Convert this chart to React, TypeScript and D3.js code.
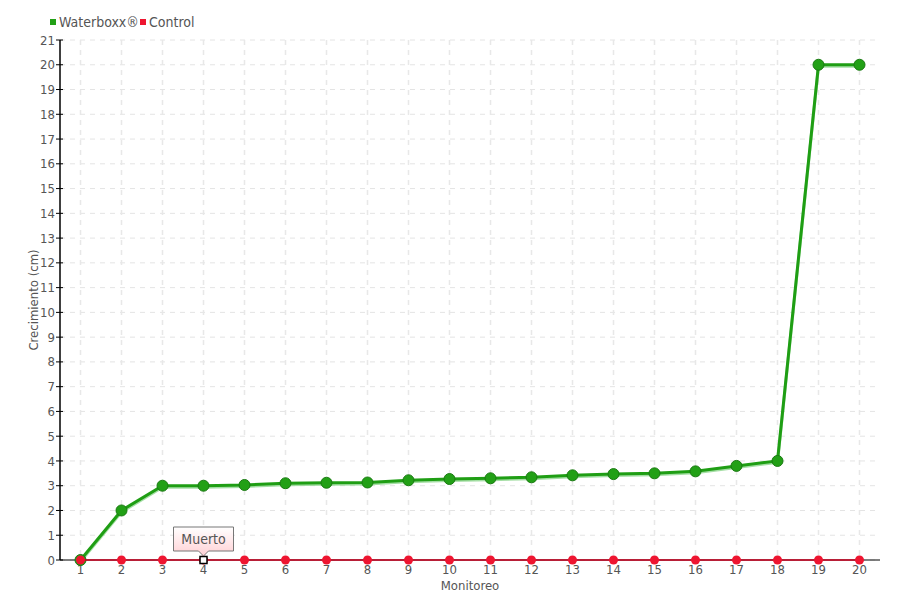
import React from "react";
import * as d3 from "d3";

const categories = ["1","2","3","4","5","6","7","8","9","10","11","12","13","14","15","16","17","18","19","20"];
const waterboxx = [0, 2, 3, 3, 3.03, 3.1, 3.12, 3.13, 3.22, 3.27, 3.3, 3.34, 3.42, 3.47, 3.5, 3.58, 3.8, 4, 20, 20];
const control = [0,0,0,0,0,0,0,0,0,0,0,0,0,0,0,0,0,0,0,0];
const yTicks = d3.range(0, 22);
const seriesNames = ["Waterboxx®", "Control"];
const tooltipIndex = 3;
const tooltipText = "Muerto";

const W = 900, H = 600;
const M = { left: 60, right: 20, top: 40, bottom: 40 };
const FONT = "'DejaVu Sans Condensed', 'DejaVu Sans', sans-serif";

export default function App() {
  const x = d3.scaleBand<string>().domain(categories).range([M.left, W - M.right]);
  const cx = (c: string) => (x(c) as number) + x.bandwidth() / 2;
  const y = d3.scaleLinear().domain([0, 21]).range([H - M.bottom, M.top]);
  const line = d3.line<number>().x((_, i) => cx(categories[i])).y((d) => y(d));
  const tx = cx(categories[tooltipIndex]);
  const ty = y(control[tooltipIndex]);
  return (
    <svg width={W} height={H} style={{ position: "absolute", left: 0, top: 0, fontFamily: FONT }}>
      <defs>
        <linearGradient id="tipg" x1="0" y1="0" x2="0" y2="1">
          <stop offset="0" stopColor="#ffffff" />
          <stop offset="1" stopColor="#ffd0d4" />
        </linearGradient>
      </defs>
      <rect width={W} height={H} fill="#fff" />
      {yTicks.map((t) => (
        <line key={"gy" + t} x1={M.left} x2={W - M.right} y1={y(t)} y2={y(t)} stroke="#e4e4e4" strokeDasharray="5,5" strokeWidth={1} />
      ))}
      {categories.map((c) => (
        <line key={"gx" + c} x1={cx(c)} x2={cx(c)} y1={M.top} y2={H - M.bottom} stroke="#e8e8e8" strokeDasharray="5,5" strokeWidth={1.5} />
      ))}
      <line x1={M.left} x2={M.left} y1={M.top} y2={H - M.bottom} stroke="#000" strokeWidth={1.5} />
      <line x1={M.left} x2={W - M.right} y1={H - M.bottom} y2={H - M.bottom} stroke="#000" strokeWidth={1} />
      {yTicks.map((t) => (
        <g key={"ty" + t}>
          <line x1={M.left - 4} x2={M.left + 3} y1={y(t)} y2={y(t)} stroke="#000" strokeWidth={1} />
          <text x={M.left - 5} y={y(t)} dy="0.35em" textAnchor="end" fontSize={13} fill="#555">{t}</text>
        </g>
      ))}
      {categories.map((c) => (
        <text key={"tx" + c} x={cx(c)} y={H - M.bottom + 14} textAnchor="middle" fontSize={13} fill="#555">{c}</text>
      ))}
      <text x={(M.left + W - M.right) / 2} y={H - M.bottom + 30} textAnchor="middle" fontSize={13} fill="#555">Monitoreo</text>
      <text transform={`translate(38,${(M.top + H - M.bottom) / 2}) rotate(-90)`} textAnchor="middle" fontSize={13} fill="#555">Crecimiento (cm)</text>
      <path d={line(waterboxx) || ""} fill="none" stroke="#7ed07e" strokeWidth={3} transform="translate(0,1.5)" opacity={0.7} />
      <path d={line(waterboxx) || ""} fill="none" stroke="#1f9e14" strokeWidth={3} />
      {waterboxx.map((v, i) => (
        <circle key={"w" + i} cx={cx(categories[i])} cy={y(v)} r={5.5} fill="#22a016" stroke="#1a7a12" strokeWidth={1} />
      ))}
      <path d={line(control) || ""} fill="none" stroke="#cc0020" strokeWidth={1.5} />
      {control.map((v, i) => (
        <circle key={"c" + i} cx={cx(categories[i])} cy={y(v)} r={4.5} fill="#ee1530" />
      ))}
      <rect x={tx - 3.5} y={ty - 3.5} width={7} height={7} fill="#fff" stroke="#000" strokeWidth={1.5} />
      <path d={`M${tx - 30},${ty - 33} H${tx + 30} V${ty - 9} H${tx + 5} L${tx},${ty - 4} L${tx - 5},${ty - 9} H${tx - 30} Z`} fill="url(#tipg)" stroke="#777" strokeWidth={1} />
      <text x={tx} y={ty - 16} textAnchor="middle" fontSize={14} fill="#555">{tooltipText}</text>
      <rect x={50} y={19} width={6} height={6} fill="#22a016" />
      <text x={59} y={22} dy="0.35em" fontSize={14} fill="#555">{seriesNames[0]}</text>
      <rect x={140} y={19} width={6} height={6} fill="#ee1530" />
      <text x={149} y={22} dy="0.35em" fontSize={14} fill="#555">{seriesNames[1]}</text>
    </svg>
  );
}
